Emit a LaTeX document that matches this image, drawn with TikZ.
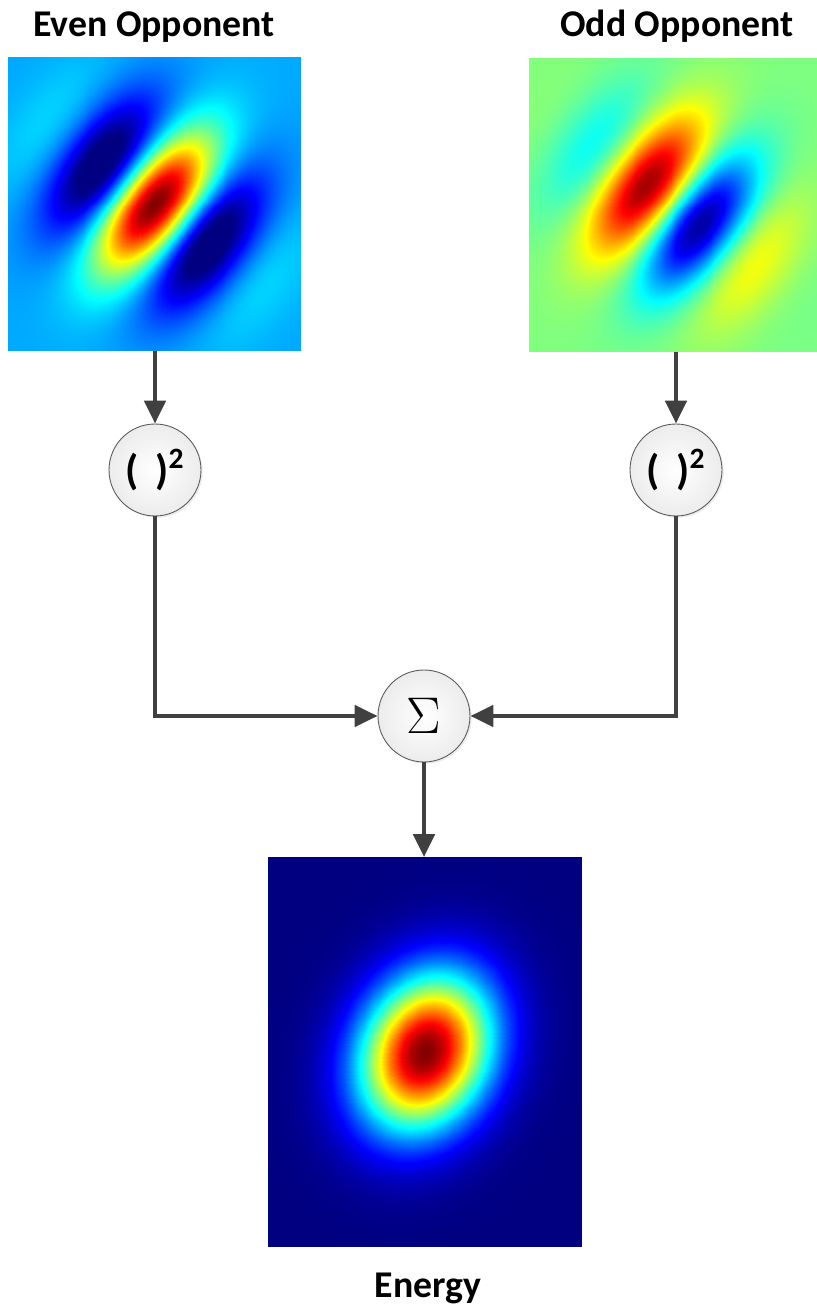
\documentclass[tikz,border=0pt]{standalone}
\usepackage{fontspec}
\setsansfont{Carlito}
\usepackage{pgfplots}
\pgfplotsset{compat=1.18}
\usetikzlibrary{arrows.meta,calc,positioning,shadows}
\definecolor{FlowLine}{HTML}{404040}
\definecolor{RingEdge}{HTML}{5A5A5A}
\definecolor{RingFill}{HTML}{ECECEC}
\tikzset{
  declare function={
    gxp(\x,\y)=0.8*\x-0.6*\y;
    gyp(\x,\y)=0.6*\x+0.8*\y;
    genv(\x,\y)=exp(-(gxp(\x,\y)*gxp(\x,\y)/0.361+gyp(\x,\y)*gyp(\x,\y)/0.289));
    eu(\x,\y)=0.42*\x+0.91*\y;
    ev(\x,\y)=-0.91*\x+0.42*\y;
  }
}
\pgfplotsset{
  jetmap/.style={hide axis,scale only axis,enlargelimits=false,
    view={0}{90},colormap/jet,anchor=south west}
}

\begin{document}
\begin{tikzpicture}[x=0.02cm,y=0.02cm,
    imgbox/.style={inner sep=0pt,outer sep=0pt},
    ring/.style={circle,draw=RingEdge,line width=0.5pt,minimum size=1.84cm,
      inner sep=0pt,inner color=white,outer color=RingFill,
      drop shadow={shadow xshift=1pt,shadow yshift=-1pt,opacity=0.15}},
    title/.style={anchor=base,font=\sffamily\bfseries\fontsize{21.5}{25}\selectfont},
    flow/.style={FlowLine,line width=2.4pt,
      -{Triangle[length=13pt,width=12pt]}}]
  \useasboundingbox (0,0) rectangle (817,1309);

  % filter pictures
  \node[imgbox,minimum width=5.86cm,minimum height=5.88cm] (even) at (154.5,1105) {};
  \node[imgbox,minimum width=5.76cm,minimum height=5.88cm] (odd) at (673,1104) {};
  \node[imgbox,minimum width=6.28cm,minimum height=7.8cm] (energy) at (425,257) {};

  \begin{axis}[jetmap,at={(even.south west)},width=5.86cm,height=5.88cm,
      point meta min=-0.41,point meta max=1]
    \addplot3[surf,shader=interp,domain=-1:1,y domain=-1:1,samples=60]
      {max(-0.41,cos(deg(5.77*gxp(x,y)))*genv(x,y))};
  \end{axis}
  \begin{axis}[jetmap,at={(odd.south west)},width=5.76cm,height=5.88cm,
      point meta min=-0.9,point meta max=0.9]
    \addplot3[surf,shader=interp,domain=-1:1,y domain=-1:1,samples=60]
      {-sin(deg(5.77*gxp(x,y)))*genv(x,y)};
  \end{axis}
  \begin{axis}[jetmap,at={(energy.south west)},width=6.28cm,height=7.8cm,
      point meta min=0,point meta max=1]
    \addplot3[surf,shader=interp,domain=-157:157,y domain=-195:195,samples=60]
      {exp(-(eu(x,y)*eu(x,y)/6400+ev(x,y)*ev(x,y)/3844))};
  \end{axis}

  \node[title] (evenlbl) at (154,1272) {Even Opponent};
  \node[title] (oddlbl) at (677,1272) {Odd Opponent};
  \node[title] (energylbl) at (428,11) {Energy};

  % squaring and sum
  \node[ring,font=\sffamily\bfseries\fontsize{24}{28}\selectfont]
    (sqeven) at (155,839) {(\hspace{0.4em})\textsuperscript{2}};
  \node[ring,font=\sffamily\bfseries\fontsize{24}{28}\selectfont]
    (sqodd) at (676,839) {(\hspace{0.4em})\textsuperscript{2}};
  \node[ring,font=\Huge] (sum) at (424,593) {\scalebox{1.18}{$\Sigma$}};

  \foreach \img/\sq in {even/sqeven,odd/sqodd}{
    \draw[flow] (\sq.north |- \img.south) -- (\sq.north);
    \draw[flow] (\sq.south) |- (sum);
  }
  \draw[flow] (sum.south) -- (sum.south |- energy.north);
\end{tikzpicture}
\end{document}
